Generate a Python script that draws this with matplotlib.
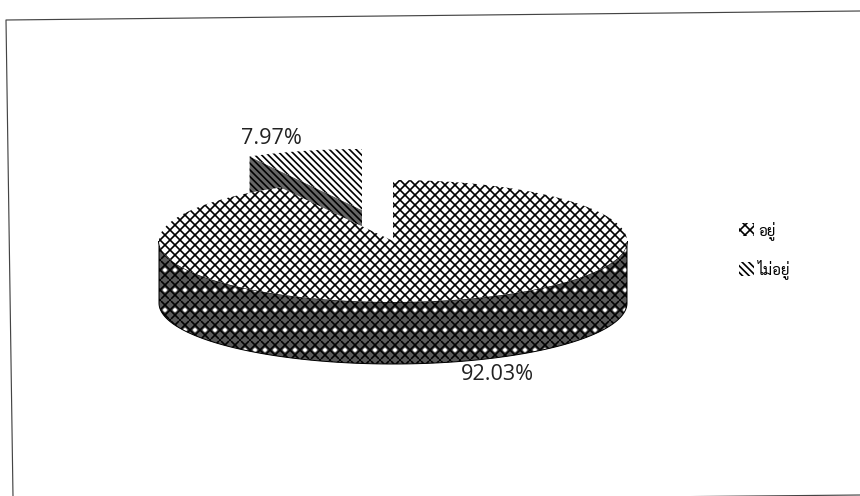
import numpy as np
import matplotlib as mpl
import matplotlib.pyplot as plt
from matplotlib.patches import Polygon, Patch

labels = ['อยู่', 'ไม่อยู่']
values = [92.03, 7.97]
value_text = ['92.03%', '7.97%']

# pie geometry in image pixels
cx, cy = 393, 241
rx, ry = 234, 61
depth = 62
explode = (-31, -31)

mpl.rcParams['hatch.linewidth'] = 1.0
plt.rcParams['font.family'] = ['Sarabun', 'Noto Sans Thai', 'Noto Sans', 'DejaVu Sans']


def arc(t0, t1, dx=0, dy=0, n=200):
    t = np.radians(np.linspace(t0, t1, n))
    return np.column_stack([cx + dx + rx*np.sin(t), cy + dy - ry*np.cos(t)])


def side(t0, t1, dx=0, dy=0):
    top = arc(t0, t1, dx, dy)
    return np.vstack([top, (top + [0, depth])[::-1]])


fig = plt.figure(figsize=(860/120, 496/120), dpi=120)
ax = fig.add_axes([0, 0, 1, 1])
ax.set_xlim(0, 860)
ax.set_ylim(496, 0)
ax.axis('off')

# scanned frame is slightly skewed and runs off the page
ax.plot([860, 6, 13], [11, 20, 497], color='#444444', lw=0.7)
ax.plot([540, 860], [498, 495], color='#444444', lw=0.7)

split = 360*values[0]/sum(values)
dx, dy = explode
tip = np.array([[cx + dx, cy + dy]])

# exploded small slice: cut face first, main pie covers the lower part
cut = np.vstack([arc(split, split, dx, dy, 1), tip, tip + [0, depth], arc(split, split, dx, dy + depth, 1)])
ax.add_patch(Polygon(cut, fc='#666666', ec='black', lw=0, hatch='\\\\\\\\\\\\'))
ax.add_patch(Polygon(np.vstack([tip, arc(split, 360, dx, dy)]), fc='white', ec='black',
                     hatch='\\\\\\\\\\\\', lw=0))

# main slice, side then top
ax.add_patch(Polygon(side(90, 270), fc='#5a5a5a', ec='white', lw=0, hatch='..'))
ax.add_patch(Polygon(side(90, 270), fc='none', ec='black', lw=0.6, hatch='xxxx'))
ax.add_patch(Polygon(np.vstack([[[cx, cy]], arc(0, split)]), fc='white', ec='black', hatch='xxxx', lw=0))

ax.text(497, 375, value_text[0], fontsize=13, ha='center', va='center', color='#222222',
        family=['Open Sans', 'DejaVu Sans'])
ax.text(271, 138, value_text[1], fontsize=13, ha='center', va='center', color='#222222',
        family=['Open Sans', 'DejaVu Sans'])

handles = [Patch(fc='white', ec='black', lw=0, hatch='xxxx'), Patch(fc='white', ec='black', lw=0, hatch='\\\\\\\\\\\\')]
ax.legend(handles, labels, loc='center left', bbox_to_anchor=(725/860, 1 - 250/496), frameon=False,
          fontsize=9, handlelength=1, handleheight=1, labelspacing=1.3, handletextpad=0.3)

fig.savefig('out.png', dpi=120)
